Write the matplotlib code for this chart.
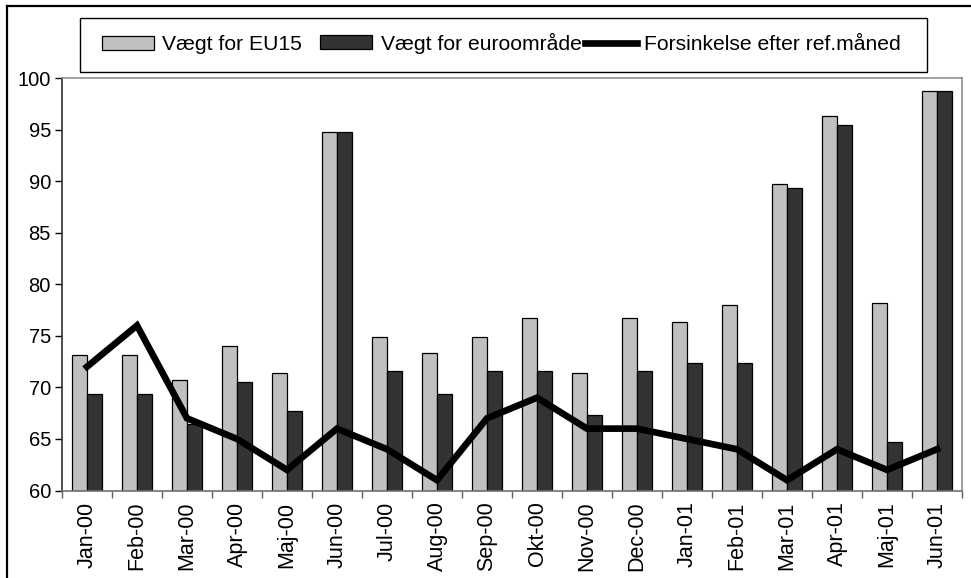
import matplotlib
matplotlib.use("Agg")
import matplotlib.pyplot as plt
from matplotlib.lines import Line2D
from matplotlib.patches import Rectangle, Patch
import numpy as np

plt.rcParams['font.family'] = ['Liberation Sans', 'DejaVu Sans']

categories = ["Jan-00", "Feb-00", "Mar-00", "Apr-00", "Maj-00", "Jun-00", "Jul-00",
              "Aug-00", "Sep-00", "Okt-00", "Nov-00", "Dec-00", "Jan-01", "Feb-01",
              "Mar-01", "Apr-01", "Maj-01", "Jun-01"]
eu15 = [73.1, 73.1, 70.7, 74.0, 71.4, 94.8, 74.9, 73.3, 74.9, 76.7, 71.4, 76.7,
        76.3, 78.0, 89.7, 96.3, 78.2, 98.7]
euro = [69.4, 69.4, 66.4, 70.5, 67.7, 94.8, 71.6, 69.4, 71.6, 71.6, 67.3, 71.6,
        72.4, 72.4, 89.3, 95.4, 64.7, 98.7]
delay = [72, 76, 67, 65, 62, 66, 64, 61, 67, 69, 66, 66, 65, 64, 61, 64, 62, 64]
yticks = [60, 65, 70, 75, 80, 85, 90, 95, 100]
legend_labels = ["Vægt for EU15", "Vægt for euroområde", "Forsinkelse efter ref.måned"]

W, H = 971, 578
fig = plt.figure(figsize=(W / 100, H / 100), dpi=100)
ax = fig.add_axes([62 / W, 1 - 490.5 / H, 900 / W, 412.5 / H])

x = np.arange(len(categories))
bw = 0.3
base = 60
ax.bar(x - bw / 2, np.array(eu15) - base, bw, bottom=base, color='#C0C0C0',
       edgecolor='black', linewidth=0.9, zorder=2)
ax.bar(x + bw / 2, np.array(euro) - base, bw, bottom=base, color='#333333',
       edgecolor='black', linewidth=0.9, zorder=2)
ax.plot(x, delay, color='black', linewidth=4.8, zorder=3, solid_joinstyle='miter')

ax.set_xlim(-0.5, len(categories) - 0.5)
ax.set_ylim(60, 100)
ax.set_yticks(yticks)
ax.set_yticklabels([str(v) for v in yticks], fontsize=14.5)
ax.tick_params(axis='y', direction='out', length=5, width=1, pad=3, colors='black')

ax.set_xticks(x)
ax.set_xticklabels(categories, rotation=90, fontsize=15.5)
ax.tick_params(axis='x', which='major', length=0, pad=8)
ax.set_xticks(np.arange(-0.5, len(categories)), minor=True)
ax.tick_params(axis='x', which='minor', direction='out', length=5, width=1, color='#606060')

for s in ['top', 'right']:
    ax.spines[s].set_color('#909090')
    ax.spines[s].set_linewidth(1.2)
ax.spines['bottom'].set_color('#707070')
ax.spines['bottom'].set_linewidth(1.2)
ax.spines['left'].set_color('#303030')
ax.spines['left'].set_linewidth(1.2)

# Legend box
fig.patches.append(Rectangle((80 / W, 1 - 72 / H), (927 - 80) / W, (72 - 18) / H,
                             transform=fig.transFigure, facecolor='white',
                             edgecolor='black', linewidth=1.0))
handles = [Patch(facecolor='#C0C0C0', edgecolor='black', linewidth=0.9),
           Patch(facecolor='#333333', edgecolor='black', linewidth=0.9),
           Line2D([], [], color='black', linewidth=4.8)]
starts = [102, 320, 585]
pads = [0.38, 0.45, 0.33]
ys = [45, 43, 45]
fs = 15.2
for h, lab, sx, yy, p in zip(handles, legend_labels, starts, ys, pads):
    fig.legend([h], [lab], loc='center left', bbox_to_anchor=(sx / W, 1 - yy / H),
               frameon=False, fontsize=fs, handlelength=2.46, handleheight=0.65,
               handletextpad=p, borderpad=0, borderaxespad=0)

# Figure border (left and top visible)
fig.add_artist(Line2D([7 / W, 7 / W], [0, 1 - 6 / H], transform=fig.transFigure,
                      color='black', linewidth=1.6))
fig.add_artist(Line2D([7 / W, 1], [1 - 6 / H, 1 - 6 / H], transform=fig.transFigure,
                      color='black', linewidth=1.6))

fig.savefig('out.png', dpi=100)
